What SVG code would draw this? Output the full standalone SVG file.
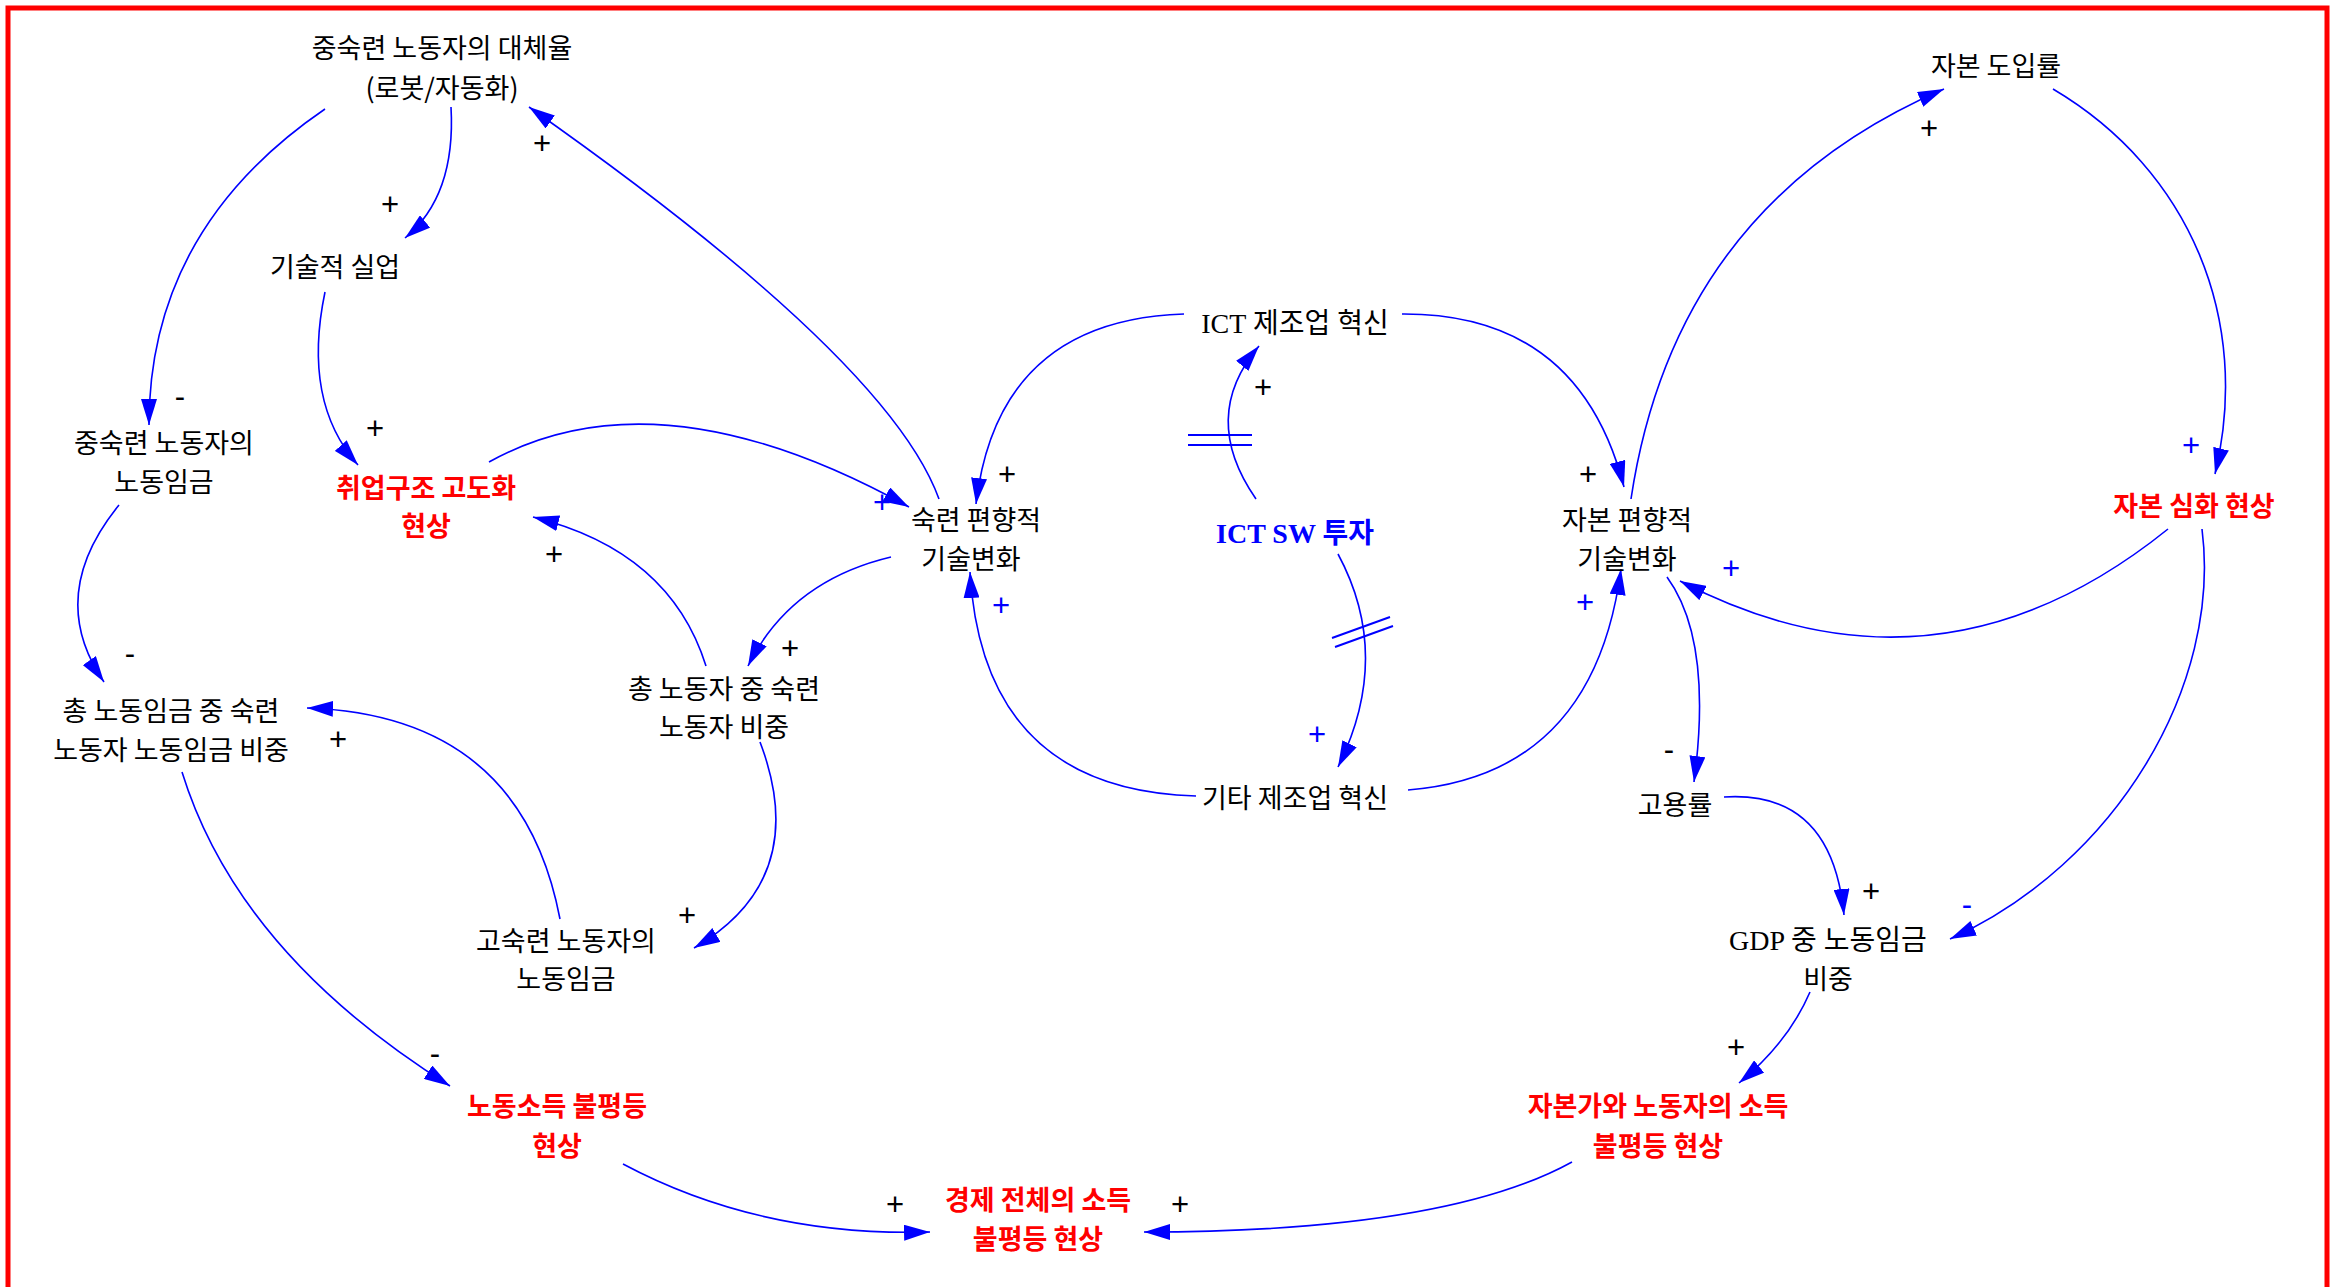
<svg xmlns="http://www.w3.org/2000/svg" width="2336" height="1287" viewBox="0 0 2336 1287">
<defs>
<style>
.n{font-family:"Noto Sans CJK KR","Noto Sans",sans-serif;font-size:27px;fill:#000;text-anchor:middle;dominant-baseline:central}
.s{font-family:"Liberation Serif","Noto Sans CJK KR",serif;font-size:28px;fill:#000;text-anchor:middle;dominant-baseline:central}
.r{fill:#ff0000;font-weight:bold}
.b{fill:#0000ff;font-weight:bold}
.c{fill:none;stroke:#0000ff;stroke-width:1.6}
.p{font-family:"Liberation Sans",sans-serif;font-size:31px;fill:#000;text-anchor:middle;dominant-baseline:central}
.pb{fill:#0000ff}
.d{stroke:#0000ff;stroke-width:2}
</style>
<marker id="ah" viewBox="0 0 26 16" refX="26" refY="8" markerWidth="26" markerHeight="16" markerUnits="userSpaceOnUse" orient="auto">
<path d="M0,0 L26,8 L0,16 z" fill="#0000ff"/>
</marker>
</defs>
<rect x="0" y="0" width="2336" height="1287" fill="#fff"/>
<path d="M8,1295 V8 H2327 V1295" fill="none" stroke="#ff0000" stroke-width="5"/>

<g id="connectors">
<path class="c" marker-end="url(#ah)" d="M939,499 Q889,360 529,107"/>
<path class="c" marker-end="url(#ah)" d="M451,107 Q456,196 405,238"/>
<path class="c" marker-end="url(#ah)" d="M325,109 Q149,229 149,425"/>
<path class="c" marker-end="url(#ah)" d="M325,292 Q302,402 358,465"/>
<path class="c" marker-end="url(#ah)" d="M489,462 Q658,368 909,507"/>
<path class="c" marker-end="url(#ah)" d="M891,557 Q790,581 748,666"/>
<path class="c" marker-end="url(#ah)" d="M706,666 Q670,551 533,517"/>
<path class="c" marker-end="url(#ah)" d="M760,742 Q812,879 694,948"/>
<path class="c" marker-end="url(#ah)" d="M560,919 Q521,715 307,708"/>
<path class="c" marker-end="url(#ah)" d="M119,505 Q45,596 104,682"/>
<path class="c" marker-end="url(#ah)" d="M182,772 Q238,953 450,1086"/>
<path class="c" marker-end="url(#ah)" d="M623,1164 Q760,1237 930,1232"/>
<path class="c" marker-end="url(#ah)" d="M1572,1162 Q1445,1232 1144,1232"/>
<path class="c" marker-end="url(#ah)" d="M1810,992 Q1788,1043 1739,1083"/>
<path class="c" marker-end="url(#ah)" d="M1724,797 Q1832,790 1844,915"/>
<path class="c" marker-end="url(#ah)" d="M1667,577 Q1713,640 1694,782"/>
<path class="c" marker-end="url(#ah)" d="M2202,529 C2222,685 2116,864 1950,939"/>
<path class="c" marker-end="url(#ah)" d="M2168,529 Q1937,715 1680,581"/>
<path class="c" marker-end="url(#ah)" d="M2053,89 C2190,170 2252,320 2215,474"/>
<path class="c" marker-end="url(#ah)" d="M1631,499 Q1675,205 1944,89"/>
<path class="c" marker-end="url(#ah)" d="M1402,314 Q1579,313 1624,487"/>
<path class="c" marker-end="url(#ah)" d="M1184,314 Q998,320 976,504"/>
<path class="c" marker-end="url(#ah)" d="M1196,796 Q983,790 970,572"/>
<path class="c" marker-end="url(#ah)" d="M1408,790 Q1594,775 1621,569"/>
<path class="c" marker-end="url(#ah)" d="M1256,499 Q1199,417 1259,346"/>
<path class="c" marker-end="url(#ah)" d="M1338,554 Q1393,656 1338,767"/>
<line class="d" x1="1188" y1="435" x2="1252" y2="435"/>
<line class="d" x1="1188" y1="445" x2="1252" y2="445"/>
<line class="d" x1="1332" y1="638" x2="1390" y2="617"/>
<line class="d" x1="1335" y1="647" x2="1393" y2="626"/>
</g>

<g id="signs">
<text class="p" x="542" y="143">+</text>
<text class="p" x="390" y="204">+</text>
<text class="p" x="180" y="396">-</text>
<text class="p" x="375" y="428">+</text>
<text class="p pb" x="882" y="502">+</text>
<text class="p" x="790" y="648">+</text>
<text class="p" x="554" y="554">+</text>
<text class="p" x="687" y="915">+</text>
<text class="p" x="338" y="739">+</text>
<text class="p" x="130" y="653">-</text>
<text class="p" x="435" y="1053">-</text>
<text class="p" x="895" y="1204">+</text>
<text class="p" x="1180" y="1204">+</text>
<text class="p" x="1736" y="1047">+</text>
<text class="p" x="1871" y="891">+</text>
<text class="p" x="1669" y="749">-</text>
<text class="p pb" x="1967" y="904">-</text>
<text class="p pb" x="1731" y="568">+</text>
<text class="p pb" x="2191" y="445">+</text>
<text class="p" x="1929" y="128">+</text>
<text class="p" x="1588" y="474">+</text>
<text class="p" x="1007" y="474">+</text>
<text class="p pb" x="1001" y="605">+</text>
<text class="p pb" x="1585" y="602">+</text>
<text class="p" x="1263" y="387">+</text>
<text class="p pb" x="1317" y="734">+</text>
</g>

<g id="n1"><text class="n" x="442" y="46">중숙련 노동자의 대체율</text><text class="n" x="442" y="86">(로봇/자동화)</text></g>
<g id="n2"><text class="n" x="335" y="265">기술적 실업</text></g>
<g id="n3"><text class="n" x="164" y="441">중숙련 노동자의</text><text class="n" x="164" y="480">노동임금</text></g>
<g id="n4"><text class="n r" x="426" y="486">취업구조 고도화</text><text class="n r" x="426" y="524">현상</text></g>
<g id="n5"><text class="n" x="976" y="518">숙련 편향적</text><text class="n" x="971" y="557">기술변화</text></g>
<g id="n6"><text class="n" x="724" y="687">총 노동자 중 숙련</text><text class="n" x="724" y="725">노동자 비중</text></g>
<g id="n7"><text class="n" x="171" y="709">총 노동임금 중 숙련</text><text class="n" x="171" y="748">노동자 노동임금 비중</text></g>
<g id="n8"><text class="n" x="566" y="939">고숙련 노동자의</text><text class="n" x="566" y="977">노동임금</text></g>
<g id="n9"><text class="n r" x="557" y="1104">노동소득 불평등</text><text class="n r" x="557" y="1144">현상</text></g>
<g id="n10"><text class="n r" x="1038" y="1198">경제 전체의 소득</text><text class="n r" x="1038" y="1237">불평등 현상</text></g>
<g id="n11"><text class="s" x="1295" y="323">ICT 제조업 혁신</text></g>
<g id="n12"><text class="s b" x="1295" y="533">ICT SW 투자</text></g>
<g id="n13"><text class="n" x="1295" y="796">기타 제조업 혁신</text></g>
<g id="n14"><text class="n" x="1627" y="518">자본 편향적</text><text class="n" x="1627" y="557">기술변화</text></g>
<g id="n15"><text class="n" x="1996" y="64">자본 도입률</text></g>
<g id="n16"><text class="n r" x="2194" y="504">자본 심화 현상</text></g>
<g id="n17"><text class="n" x="1675" y="803">고용률</text></g>
<g id="n18"><text class="s" x="1828" y="940">GDP 중 노동임금</text><text class="n" x="1828" y="977">비중</text></g>
<g id="n19"><text class="n r" x="1658" y="1104">자본가와 노동자의 소득</text><text class="n r" x="1658" y="1144">불평등 현상</text></g>
</svg>
